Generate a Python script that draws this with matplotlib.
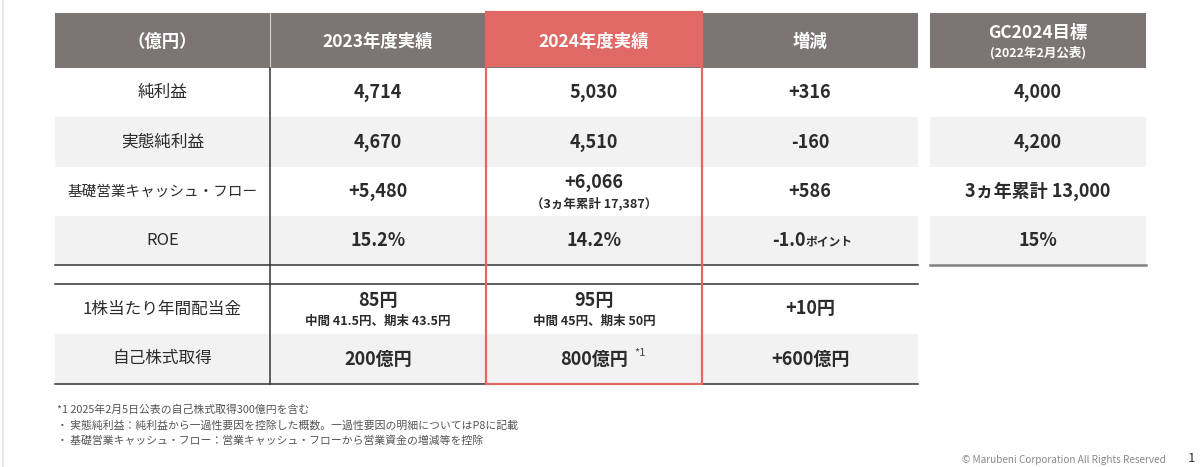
import matplotlib
matplotlib.use("Agg")
import matplotlib.pyplot as plt
from matplotlib.patches import Rectangle

plt.rcParams['font.family'] = ['Noto Sans CJK JP', 'DejaVu Sans']

# ---------------- data ----------------
header = ['（億円）', '2023年度実績', '2024年度実績', '増減']
gc_header = 'GC2024目標'
gc_header_sub = '(2022年2月公表)'

row_labels = ['純利益', '実態純利益', '基礎営業キャッシュ・フロー', 'ROE']
fy2023 = ['4,714', '4,670', '+5,480', '15.2%']
fy2024 = ['5,030', '4,510', '+6,066', '14.2%']
fy2024_sub = ['', '', '（3ヵ年累計 17,387）', '']
change = ['+316', '-160', '+586', '-1.0']
change_unit = ['', '', '', 'ポイント']
gc_target = ['4,000', '4,200', '3ヵ年累計 13,000', '15%']

ret_labels = ['1株当たり年間配当金', '自己株式取得']
ret_2023 = ['85円', '200億円']
ret_2023_sub = ['中間 41.5円、期末 43.5円', '']
ret_2024 = ['95円', '800億円']
ret_2024_sub = ['中間 45円、期末 50円', '']
ret_2024_note = ['', '*1']
ret_change = ['+10円', '+600億円']

footnotes = ['*1 2025年2月5日公表の自己株式取得300億円を含む',
             '・ 実態純利益：純利益から一過性要因を控除した概数。一過性要因の明細についてはP8に記載',
             '・ 基礎営業キャッシュ・フロー：営業キャッシュ・フローから営業資金の増減等を控除']
copyright_text = '© Marubeni Corporation All Rights Reserved'
page_no = '1'

# ---------------- layout (pixel coords) ----------------
W, H = 1200, 467
col_x = [55, 270, 486, 702, 918]
gc_x = [930, 1146]
head_y = [13, 68]
row_y = [68, 117, 167, 216, 265]
ret_y = [284, 334, 384]

GRAY_HEAD = '#7d7574'
RED = '#e06966'
BAND = '#f2f2f2'
TXT = '#2b2b2b'
LINE = '#333333'

FS_LABEL = 12
FS_VAL = 13
FS_HEAD = 12.5
FS_SUB = 9

fig = plt.figure(figsize=(12, 4.67), dpi=100)
ax = fig.add_axes([0, 0, 1, 1])
ax.set_xlim(0, W)
ax.set_ylim(H, 0)
ax.axis('off')

# faint slide border on left
ax.plot([3, 3], [0, H], color='#e4e4e4', lw=1.2)

# header backgrounds
ax.add_patch(Rectangle((col_x[0], head_y[0]), col_x[4] - col_x[0], head_y[1] - head_y[0],
                       facecolor=GRAY_HEAD, edgecolor='none'))
ax.add_patch(Rectangle((gc_x[0], head_y[0]), gc_x[1] - gc_x[0], head_y[1] - head_y[0],
                       facecolor=GRAY_HEAD, edgecolor='none'))
ax.plot([col_x[1], col_x[1]], head_y, color='#d8d4d3', lw=0.8)
ax.add_patch(Rectangle((col_x[2], 12), col_x[3] - col_x[2], 55,
                       facecolor=RED, edgecolor='none', zorder=2))

# grey bands
for i in range(len(row_labels)):
    if i % 2 == 1:
        ax.add_patch(Rectangle((col_x[0], row_y[i]), col_x[4] - col_x[0], row_y[i + 1] - row_y[i],
                               facecolor=BAND, edgecolor='none'))
        ax.add_patch(Rectangle((gc_x[0], row_y[i]), gc_x[1] - gc_x[0], row_y[i + 1] - row_y[i],
                               facecolor=BAND, edgecolor='none'))
for i in range(len(ret_labels)):
    if i % 2 == 1:
        ax.add_patch(Rectangle((col_x[0], ret_y[i]), col_x[4] - col_x[0], ret_y[i + 1] - ret_y[i],
                               facecolor=BAND, edgecolor='none'))

# lines
ax.plot([col_x[1], col_x[1]], [head_y[1], ret_y[-1]], color=LINE, lw=1.1)
for y in [row_y[-1], ret_y[0], ret_y[-1]]:
    ax.plot([col_x[0], col_x[4]], [y, y], color=LINE, lw=1.1)
ax.plot(gc_x, [row_y[-1], row_y[-1]], color='#808080', lw=1.8)

# red outline box
ax.add_patch(Rectangle((col_x[2], 12), col_x[3] - col_x[2], ret_y[-1] - 12,
                       facecolor='none', edgecolor=RED, lw=1.6, zorder=5))

# header text
hy = (head_y[0] + head_y[1]) / 2 + 1
for j, h in enumerate(header):
    cx = (col_x[j] + col_x[j + 1]) / 2
    ax.text(cx, hy, h, ha='center', va='center', color='white', fontsize=FS_HEAD,
            fontweight='bold', zorder=6)
gcx = (gc_x[0] + gc_x[1]) / 2
ax.text(gcx, 33, gc_header, ha='center', va='center', color='white', fontsize=12.5,
        fontweight='bold')
ax.text(gcx, 53, gc_header_sub, ha='center', va='center', color='white', fontsize=9,
        fontweight='bold')

cen = [(col_x[j] + col_x[j + 1]) / 2 for j in range(4)]


def label_size(s):
    # long label shrinks to stay inside its column
    return FS_LABEL if len(s) <= 10 else 10.5


# KPI rows
for i, lab in enumerate(row_labels):
    cy = (row_y[i] + row_y[i + 1]) / 2
    ax.text(cen[0], cy, lab, ha='center', va='center', color=TXT, fontsize=label_size(lab))
    ax.text(cen[1], cy, fy2023[i], ha='center', va='center', color=TXT, fontsize=FS_VAL,
            fontweight='bold')
    if fy2024_sub[i]:
        ax.text(cen[2], cy - 9, fy2024[i], ha='center', va='center', color=TXT, fontsize=FS_VAL,
                fontweight='bold')
        ax.text(cen[2], cy + 12.5, fy2024_sub[i], ha='center', va='center', color=TXT,
                fontsize=FS_SUB, fontweight='bold')
    else:
        ax.text(cen[2], cy, fy2024[i], ha='center', va='center', color=TXT, fontsize=FS_VAL,
                fontweight='bold')
    if change_unit[i]:
        ax.text(cen[3] - 4, cy, change[i], ha='right', va='center', color=TXT, fontsize=FS_VAL,
                fontweight='bold')
        ax.text(cen[3] - 4, cy + 1, change_unit[i], ha='left', va='center', color=TXT,
                fontsize=8.5, fontweight='bold')
    else:
        ax.text(cen[3], cy, change[i], ha='center', va='center', color=TXT, fontsize=FS_VAL,
                fontweight='bold')
    ax.text(gcx, cy, gc_target[i], ha='center', va='center', color=TXT, fontsize=FS_VAL,
            fontweight='bold')

# shareholder return rows
for i, lab in enumerate(ret_labels):
    cy = (ret_y[i] + ret_y[i + 1]) / 2
    ax.text(cen[0], cy, lab, ha='center', va='center', color=TXT, fontsize=FS_LABEL)
    for j, (vals, subs) in enumerate([(ret_2023, ret_2023_sub), (ret_2024, ret_2024_sub)]):
        if subs[i]:
            ax.text(cen[1 + j], cy - 9, vals[i], ha='center', va='center', color=TXT,
                    fontsize=FS_VAL, fontweight='bold')
            ax.text(cen[1 + j], cy + 12.5, subs[i], ha='center', va='center', color=TXT,
                    fontsize=FS_SUB, fontweight='bold')
        else:
            ax.text(cen[1 + j], cy, vals[i], ha='center', va='center', color=TXT,
                    fontsize=FS_VAL, fontweight='bold')
    if ret_2024_note[i]:
        ax.text(cen[2] + 40, cy - 6, ret_2024_note[i], ha='left', va='center', color='#444444',
                fontsize=8)
    ax.text(cen[3], cy, ret_change[i], ha='center', va='center', color=TXT, fontsize=FS_VAL,
            fontweight='bold')

# footnotes
for k, fn in enumerate(footnotes):
    ax.text(57, 410 + k * 15, fn, ha='left', va='center', color='#555555', fontsize=7.8)

ax.text(962, 465, copyright_text, ha='left', va='bottom', color='#888888', fontsize=7.2)
ax.text(1188, 465, page_no, ha='left', va='bottom', color='#333333', fontsize=9.5)

fig.savefig('out.png', dpi=100, facecolor='white')
